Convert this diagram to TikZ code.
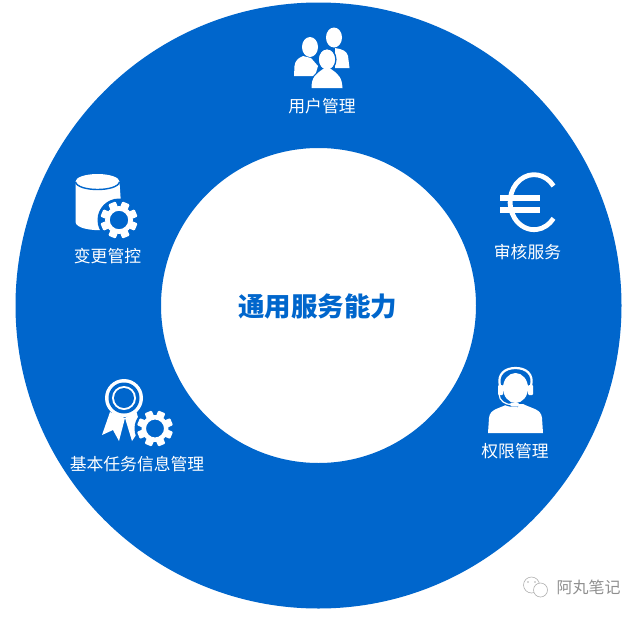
\documentclass[tikz,border=0pt]{standalone}
\usepackage{fontspec}
\newfontfamily\cjk{Noto Sans CJK SC}
\definecolor{ringblue}{HTML}{0066CC}
\definecolor{markgray}{HTML}{909090}
\newcommand{\cogicon}[3]{%
 \begin{scope}[shift={(#1,#2)}]
  \foreach \a in {0,45,...,315}{\fill[white,rotate=\a+22.5,rounded corners=1pt] (-#3*0.24,#3*0.72) rectangle (#3*0.24,#3*1.12);}
  \fill[white,even odd rule] (0,0) circle[radius=#3*0.84] (0,0) circle[radius=#3*0.56];
 \end{scope}}
\tikzset{
  ringlabel/.style={text=white,font=\cjk\fontsize{16.8pt}{18pt}\selectfont,inner sep=0pt},
  centerlabel/.style={text=ringblue,font=\cjk\bfseries\fontsize{26.5pt}{28pt}\selectfont,inner sep=0pt},
  marklabel/.style={text=markgray,font=\cjk\fontsize{16pt}{18pt}\selectfont,inner sep=0pt},
  iconfill/.style={fill=white,draw=none},
  bluegap/.style={draw=ringblue,line width=1.6pt,fill=white}
}
\begin{document}
\begin{tikzpicture}[x=1pt,y=-1pt]
\useasboundingbox (0,0) rectangle (640,616);
\fill[white] (0,0) rectangle (640,616);
\fill[ringblue,even odd rule] (318.5,305.5) circle[radius=303] (318.5,305.5) circle[radius=157.5];
\node[centerlabel] (center) at (317.5,306.5) {通用服务能力};
% users icon
\fill[white] (334,37.5) ellipse[x radius=8,y radius=10];
\path[iconfill] (335,48) .. controls (342,49) and (347,51) .. (348,56) -- (349.5,68) -- (335,68) -- cycle;
\fill[white] (310,47) ellipse[x radius=8,y radius=10];
\path[iconfill] (303,56) .. controls (298,58) and (295,61) .. (294.5,66) -- (294,76) -- (315,76) -- (318,66) -- (311,58) -- cycle;
\path[bluegap] (311,88) .. controls (311,76) and (316,73) .. (325,69) .. controls (335,73) and (342,76) .. (343,88) -- cycle;
\path[bluegap] (327,59.5) ellipse[x radius=8.8,y radius=10.8];
\fill[white] (311.5,88) .. controls (311.5,77) and (316,74) .. (323,69) -- (331,69) .. controls (338,74) and (342,77) .. (342.5,88) -- cycle;
\fill[white] (327,59.5) ellipse[x radius=8,y radius=10];
\node[ringlabel] (users) at (322,106) {用户管理};
% euro icon
\draw[white,line width=4.8pt] (553.5,186) arc[start angle=-36,end angle=-324,x radius=24,y radius=27.5];
\fill[white] (500,195) rectangle (540,201);
\fill[white] (500,207) rectangle (540,212.5);
\node[ringlabel] (audit) at (527.5,252.5) {审核服务};
% database and gear icon
\fill[white] (75.5,182) -- (75.5,222) .. controls (76,228) and (90,231) .. (106,230) -- (121,204) -- (119.5,182) -- cycle;
\fill[white] (97.5,181.5) ellipse[x radius=22,y radius=7.5];
\draw[ringblue,line width=1.4pt] (75.5,182) .. controls (78,192) and (117,192) .. (119.5,182);
\fill[ringblue] (119,220) circle[radius=21.5];
\cogicon{119}{220}{16.5}
\node[ringlabel] (change) at (107.5,256) {变更管控};
% ribbon and gear icon
\fill[white] (110,412) -- (102,435) -- (113,430) -- (119,441) -- (125,418) -- cycle;
\fill[white] (125,418) -- (132,441) -- (138,432) -- (142,432) -- (136,410) -- cycle;
\fill[white] (124,398) circle[radius=19];
\fill[ringblue] (124,398) circle[radius=15.5];
\fill[white] (124,398) circle[radius=12];
\fill[ringblue] (124,398) circle[radius=10];
\fill[ringblue] (155,428.5) circle[radius=20.5];
\cogicon{155}{428.5}{16}
\node[ringlabel] (task) at (137,464) {基本任务信息管理};
% agent icon
\fill[white] (488,433) -- (489,418) .. controls (490,409) and (498,409) .. (508,404) -- (523,404) .. controls (533,409) and (541,409) .. (542,418) -- (543,433) -- cycle;
\draw[ringblue,line width=3pt] (499,393) .. controls (499,402) and (506,406) .. (518,405.5);
\fill[white] (515.5,388) ellipse[x radius=12.5,y radius=15];
\draw[white,line width=2.2pt] (500,386) .. controls (497,374) and (505,368) .. (515.5,368) .. controls (526,368) and (534,374) .. (531,386);
\fill[white,rounded corners=1pt] (498,385) rectangle (503,395);
\fill[white,rounded corners=1pt] (528,385) rectangle (533,395);
\draw[white,line width=1.2pt] (499,394) .. controls (499,401) and (506,405) .. (512,404.5);
\fill[white,rounded corners=1.5pt] (510,402.5) rectangle (519,406.5);
\node[ringlabel] (perm) at (515,451) {权限管理};
% watermark
\node[marklabel] (mark) at (588.5,587) {阿丸笔记};
\draw[markgray!70,line width=0.6pt] (531.5,585) circle[radius=8];
\fill[white] (540.5,590) circle[radius=7];
\draw[markgray!70,line width=0.6pt] (540.5,590) circle[radius=7];
\fill[markgray!70] (528,582) circle[radius=0.8] (535,582) circle[radius=0.8];
\end{tikzpicture}
\end{document}
